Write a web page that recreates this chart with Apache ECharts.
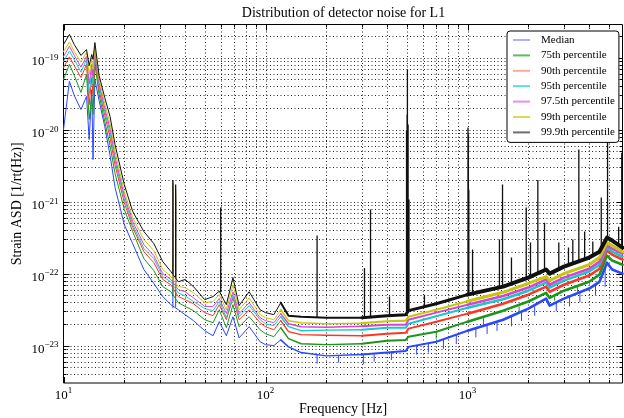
<!DOCTYPE html>
<html><head><meta charset="utf-8">
<script src="https://cdn.jsdelivr.net/npm/echarts@6/dist/echarts.min.js"></script>
<style>html,body{margin:0;padding:0;background:#fff}#c{width:624px;height:418px}</style>
</head><body><div id="c"></div>
<script>
// ---------------- data ----------------
const freqs = [10, 10.7, 11.3, 12.2, 13.0, 13.4, 13.8, 14.0, 14.3, 15,
  16, 17, 18, 20, 22, 25, 28, 31, 34, 37,
  40, 44, 50, 55, 59, 64, 69, 74, 83, 94,
  100, 110, 119, 130, 150, 200, 300, 400, 495, 510,
  700, 1000, 1500, 2000, 2450, 2550, 3000, 4000, 4500, 4900,
  5200, 5850];

const median = [1.0e-20, 4.7e-20, 3.0e-20, 1.91e-20, 2.9e-20, 7.3e-21, 3.6e-20, 3.85e-21, 5.0e-20, 2.55e-20,
  1.11e-20, 4.4e-21, 1.57e-21, 4.8e-22, 2.61e-22, 1.14e-22, 7.3e-23, 4.8e-23, 3.7e-23, 3.15e-23,
  2.69e-23, 2.22e-23, 1.61e-23, 1.37e-23, 2.15e-23, 1.37e-23, 2.52e-23, 1.28e-23, 1.83e-23, 1.13e-23,
  1.03e-23, 1.0e-23, 1.2e-23, 9.6e-24, 8.0e-24, 7.2e-24, 7.5e-24, 8.0e-24, 8.4e-24, 9.6e-24,
  1.13e-23, 1.61e-23, 2.29e-23, 3.26e-23, 4.5e-23, 3.6e-23, 4.5e-23, 6.2e-23, 7.7e-23, 1.42e-22,
  1.14e-22, 1.0e-22];
const p75 = [5.0e-20, 8.1e-20, 5.7e-20, 3.3e-20, 5.9e-20, 1.39e-20, 3.1e-20, 1.63e-20, 8.3e-20, 3.1e-20,
  1.30e-20, 6.0e-21, 2.46e-21, 7.8e-22, 3.84e-22, 1.62e-22, 1.1e-22, 6.6e-23, 5.6e-23, 3.95e-23,
  3.5e-23, 3.06e-23, 2.29e-23, 2.08e-23, 3.15e-23, 1.77e-23, 3.7e-23, 1.83e-23, 2.52e-23, 1.66e-23,
  1.46e-23, 1.33e-23, 1.77e-23, 1.25e-23, 1.06e-23, 1.03e-23, 1.06e-23, 1.17e-23, 1.2e-23, 1.33e-23,
  1.56e-23, 2.15e-23, 3.06e-23, 4.1e-23, 5.4e-23, 4.6e-23, 5.8e-23, 7.7e-23, 9.7e-23, 1.78e-22,
  1.52e-22, 1.33e-22];
const p90 = [7.3e-20, 1.03e-19, 7.8e-20, 5.3e-20, 8.1e-20, 2.24e-20, 5.3e-20, 3.1e-20, 1.04e-19, 3.6e-20,
  1.58e-20, 7.8e-21, 3.2e-21, 9.7e-22, 4.4e-22, 2.02e-22, 1.42e-22, 8.3e-23, 7.0e-23, 4.8e-23,
  4.35e-23, 3.82e-23, 2.87e-23, 2.6e-23, 3.7e-23, 2.29e-23, 4.6e-23, 2.29e-23, 3.15e-23, 2.08e-23,
  1.83e-23, 1.66e-23, 2.22e-23, 1.56e-23, 1.42e-23, 1.39e-23, 1.37e-23, 1.46e-23, 1.51e-23, 1.72e-23,
  2.15e-23, 2.78e-23, 3.82e-23, 5.1e-23, 6.6e-23, 5.6e-23, 7.0e-23, 9.4e-23, 1.17e-22, 2.09e-22,
  1.84e-22, 1.57e-22];
const p95 = [8.9e-20, 1.24e-19, 9.5e-20, 6.3e-20, 9.5e-20, 3.1e-20, 6.9e-20, 4.3e-20, 1.19e-19, 4.1e-20,
  1.79e-20, 9.1e-21, 3.7e-21, 1.1e-21, 4.8e-22, 2.23e-22, 1.62e-22, 9.1e-23, 7.7e-23, 5.4e-23,
  4.9e-23, 4.1e-23, 3.26e-23, 3.06e-23, 4.1e-23, 2.44e-23, 4.9e-23, 2.52e-23, 3.6e-23, 2.29e-23,
  2.01e-23, 1.89e-23, 2.52e-23, 1.83e-23, 1.61e-23, 1.64e-23, 1.66e-23, 1.77e-23, 1.77e-23, 2.01e-23,
  2.56e-23, 3.36e-23, 4.4e-23, 5.8e-23, 7.5e-23, 6.4e-23, 8.0e-23, 1.07e-22, 1.33e-22, 2.3e-22,
  2.02e-22, 1.72e-22];
const p975 = [1.04e-19, 1.45e-19, 1.08e-19, 7.4e-20, 1.05e-19, 4.3e-20, 8.1e-20, 5.3e-20, 1.30e-19, 4.5e-20,
  2.0e-20, 1.04e-20, 4.2e-21, 1.22e-21, 5.3e-22, 2.53e-22, 1.78e-22, 1.0e-22, 8.3e-23, 6.0e-23,
  5.6e-23, 4.6e-23, 3.5e-23, 3.5e-23, 4.5e-23, 2.78e-23, 5.6e-23, 2.78e-23, 3.95e-23, 2.44e-23,
  2.22e-23, 2.08e-23, 2.78e-23, 2.01e-23, 1.83e-23, 1.80e-23, 1.86e-23, 1.95e-23, 1.95e-23, 2.29e-23,
  2.87e-23, 3.7e-23, 4.9e-23, 6.4e-23, 8.3e-23, 7.0e-23, 8.8e-23, 1.17e-22, 1.47e-22, 2.45e-22,
  2.23e-22, 1.9e-22];
const p99 = [1.22e-19, 1.66e-19, 1.22e-19, 8.7e-20, 1.19e-19, 5.9e-20, 9.5e-20, 6.9e-20, 1.44e-19, 5.0e-20,
  2.3e-20, 1.22e-20, 5.0e-21, 1.38e-21, 6.0e-22, 2.97e-22, 2.09e-22, 1.14e-22, 9.1e-23, 6.6e-23,
  6.4e-23, 5.4e-23, 3.95e-23, 4.1e-23, 5.1e-23, 3.15e-23, 7.0e-23, 3.15e-23, 4.6e-23, 2.69e-23,
  2.44e-23, 2.29e-23, 3.15e-23, 2.22e-23, 2.08e-23, 2.01e-23, 2.05e-23, 2.18e-23, 2.22e-23, 2.52e-23,
  3.15e-23, 4.14e-23, 5.5e-23, 7.3e-23, 9.1e-23, 8.0e-23, 1.0e-22, 1.33e-22, 1.67e-22, 2.7e-22,
  2.45e-22, 2.02e-22];
const p999 = [1.53e-19, 2.11e-19, 1.53e-19, 1.08e-19, 1.30e-19, 7.8e-20, 1.11e-19, 9.5e-20, 1.63e-19, 5.7e-20,
  2.8e-20, 1.53e-20, 6.2e-21, 1.73e-21, 7.3e-22, 3.84e-22, 2.61e-22, 1.47e-22, 1.07e-22, 7.7e-23,
  8.3e-23, 6.6e-23, 4.35e-23, 4.8e-23, 5.7e-23, 3.7e-23, 8.8e-23, 3.6e-23, 5.6e-23, 3.15e-23,
  2.87e-23, 2.69e-23, 3.95e-23, 2.6e-23, 2.52e-23, 2.44e-23, 2.44e-23, 2.6e-23, 2.69e-23, 3.06e-23,
  3.82e-23, 5.1e-23, 6.6e-23, 8.8e-23, 1.14e-22, 1.0e-22, 1.25e-22, 1.67e-22, 2.02e-22, 3.17e-22,
  2.88e-22, 2.3e-22];

// narrow spectral lines: frequency, floor value, extreme value
const lines35Freq = [34.8, 35.9];
const medianLinesBase = [3.3e-23, 3.4e-23], medianLinesTop = [1.2e-21, 1.0e-21];
const p75LinesBase = [5.2e-23, 4.5e-23], p75LinesTop = [1.4e-21, 1.2e-21];
const p90LinesBase = [6.6e-23, 5.8e-23], p90LinesTop = [1.6e-21, 1.3e-21];
const p95LinesBase = [7.4e-23, 6.4e-23], p95LinesTop = [1.7e-21, 1.4e-21];
const p975LinesBase = [8.0e-23, 7.0e-23], p975LinesTop = [1.8e-21, 1.5e-21];
const p99LinesBase = [8.9e-23, 7.8e-23], p99LinesTop = [1.9e-21, 1.6e-21];

const p999LinesFreq = [34.8, 35.9, 60, 180, 309, 331, 411, 499, 502, 504, 508, 513, 612,
  1005, 1010, 1015, 1059, 1439, 1490, 1650, 1953, 2050, 2229, 2405, 2830, 3160, 3320, 3557, 3800, 4170, 4592, 4933, 5600, 5800];
const p999LinesTop = [2.0e-21, 1.73e-21, 8.3e-22, 3.4e-22, 1.2e-22, 7.8e-22, 4.8e-23, 9.7e-21, 1.63e-20, 6.9e-20, 1.18e-20, 1.07e-21, 5.1e-23,
  1.07e-20, 8.6e-21, 1.47e-21, 2.16e-22, 2.97e-22, 1.73e-21, 1.67e-22, 8.3e-22, 2.7e-22, 2.0e-21, 5.1e-22, 2.7e-22, 2.3e-22, 2.97e-22, 5.3e-21, 3.84e-22, 2.79e-22, 1.14e-21, 2.6e-20, 4.5e-22, 4.8e-21];
const p999LinesBase = [1.0e-22, 9.0e-23, 5.5e-23, 2.5e-23, 2.44e-23, 2.44e-23, 2.6e-23, 2.7e-23, 2.8e-23, 2.9e-23, 3.0e-23, 3.0e-23, 3.5e-23,
  5.1e-23, 5.1e-23, 5.1e-23, 5.3e-23, 6.4e-23, 6.6e-23, 7.0e-23, 8.6e-23, 9.0e-23, 1.0e-22, 1.1e-22, 1.2e-22, 1.3e-22, 1.35e-22, 1.45e-22, 1.6e-22, 1.8e-22, 2.2e-22, 3.1e-22, 2.5e-22, 2.3e-22];

// downward dropouts in the median and 75th percentile
const medianDipFreq = [180, 230, 305, 345, 420, 560, 640, 760, 880, 1100, 1250, 1400, 1650, 1850, 2150, 2750, 3200, 3600, 4300, 4800];
const medianDipBase = [7.5e-24, 7.2e-24, 7.5e-24, 7.6e-24, 8.1e-24, 1.0e-23, 1.08e-23, 1.2e-23, 1.4e-23, 1.75e-23, 1.95e-23, 2.15e-23, 2.5e-23, 2.9e-23, 3.5e-23, 4.0e-23, 4.8e-23, 5.4e-23, 7.0e-23, 1.2e-22];
const medianDipLow = [5.6e-24, 5.8e-24, 5.5e-24, 6.0e-24, 6.3e-24, 7.5e-24, 8.0e-24, 9.0e-24, 1.05e-23, 1.3e-23, 1.45e-23, 1.6e-23, 1.85e-23, 2.2e-23, 2.6e-23, 3.0e-23, 3.5e-23, 4.0e-23, 5.0e-23, 6.5e-23];
const p75DipFreq = [700, 1200, 1800, 2700, 3500];
const p75DipBase = [1.56e-23, 2.4e-23, 3.5e-23, 5.2e-23, 6.7e-23];
const p75DipLow = [1.25e-23, 1.9e-23, 2.8e-23, 4.2e-23, 5.3e-23];

const seriesNames = ['Median', '75th percentile', '90th percentile', '95th percentile',
  '97.5th percentile', '99th percentile', '99.9th percentile'];

// tick positions
const xMajorTicks = [10, 100, 1000];
const xMinorTicks = [20, 30, 40, 50, 60, 70, 80, 90, 200, 300, 400, 500, 600, 700, 800, 900, 2000, 3000, 4000, 5000];
const yMajorTicks = [1e-23, 1e-22, 1e-21, 1e-20, 1e-19];
const yMinorTicks = [4e-24, 5e-24, 6e-24, 7e-24, 8e-24, 9e-24,
  2e-23, 3e-23, 4e-23, 5e-23, 6e-23, 7e-23, 8e-23, 9e-23,
  2e-22, 3e-22, 4e-22, 5e-22, 6e-22, 7e-22, 8e-22, 9e-22,
  2e-21, 3e-21, 4e-21, 5e-21, 6e-21, 7e-21, 8e-21, 9e-21,
  2e-20, 3e-20, 4e-20, 5e-20, 6e-20, 7e-20, 8e-20, 9e-20,
  2e-19];
const xMinVal = 10, xMaxVal = 5850, yMinVal = 3.02e-24, yMaxVal = 2.9e-19;

// ---------------- styles ----------------
const lineColors = ['#2a46ff', '#1a961a', '#ff3424', '#18c8c8', '#d644d6', '#c6c60c', '#111111'];
const legendColors = ['#a9b2ff', '#63b863', '#ffa89e', '#5fd9d9', '#ee8cee', '#d9d955', '#6e6e6e'];
// the dense spectrum reads as a band that thickens with frequency: widths per frequency band
const bandEdges = [0, 32, 36, 41, 51]; // indices into freqs: <119 Hz, 119-300, 300-1000, >1000
const bandWidths = [[1, 1.4, 2, 2.6], [1, 1.4, 2, 2.6], [1, 1.4, 2, 2.6], [1, 1.4, 2, 2.6],
  [1, 1.4, 2, 2.6], [1, 1.5, 2.2, 3], [1, 2, 3, 4]];
const FONT = 'Liberation Serif';

const baseValues = [median, p75, p90, p95, p975, p99, p999];
const lineSets = [
  [[lines35Freq, medianLinesBase, medianLinesTop], [medianDipFreq, medianDipBase, medianDipLow]],
  [[lines35Freq, p75LinesBase, p75LinesTop], [p75DipFreq, p75DipBase, p75DipLow]],
  [[lines35Freq, p90LinesBase, p90LinesTop]],
  [[lines35Freq, p95LinesBase, p95LinesTop]],
  [[lines35Freq, p975LinesBase, p975LinesTop]],
  [[lines35Freq, p99LinesBase, p99LinesTop]],
  [[p999LinesFreq, p999LinesBase, p999LinesTop]]
];
const L = v => Math.log10(v);

const series = [];
const dotted = { stroke: '#000', lineWidth: 1, lineDash: [1, 2.5], opacity: 0.85 };
const tickStyle = { stroke: '#000', lineWidth: 1 };
function gridRender(isX) {
  return function (params, api) {
    const cs = params.coordSys;
    const len = api.value(2) === 1 ? 6 : 3;
    const p = api.coord([api.value(0), api.value(1)]);
    const ch = [];
    if (isX) {
      const x = Math.round(p[0]) + 0.5;
      if (x > cs.x + 1.5 && x < cs.x + cs.width - 1.5)
        ch.push({ type: 'line', shape: { x1: x, y1: cs.y, x2: x, y2: cs.y + cs.height }, style: dotted });
      ch.push({ type: 'line', shape: { x1: x, y1: cs.y + cs.height, x2: x, y2: cs.y + cs.height - len }, style: tickStyle });
      ch.push({ type: 'line', shape: { x1: x, y1: cs.y, x2: x, y2: cs.y + len }, style: tickStyle });
    } else {
      const y = Math.round(p[1]) + 0.5;
      if (y > cs.y + 1.5 && y < cs.y + cs.height - 1.5)
        ch.push({ type: 'line', shape: { x1: cs.x, y1: y, x2: cs.x + cs.width, y2: y }, style: dotted });
      ch.push({ type: 'line', shape: { x1: cs.x, y1: y, x2: cs.x + len, y2: y }, style: tickStyle });
      ch.push({ type: 'line', shape: { x1: cs.x + cs.width, y1: y, x2: cs.x + cs.width - len, y2: y }, style: tickStyle });
    }
    return { type: 'group', children: ch };
  };
}
series.push({ type: 'custom', silent: true, z: 1, renderItem: gridRender(true),
  data: xMajorTicks.map(v => [v, -21, 1]).concat(xMinorTicks.map(v => [v, -21, 0])) });
series.push({ type: 'custom', silent: true, z: 1, renderItem: gridRender(false),
  data: yMajorTicks.map(v => [100, L(v), 1]).concat(yMinorTicks.map(v => [100, L(v), 0])) });

seriesNames.forEach((name, k) => {
  const vals = baseValues[k];
  for (let b = 0; b < bandEdges.length - 1; b++) {
    const data = [];
    for (let i = bandEdges[b]; i <= bandEdges[b + 1]; i++) data.push([freqs[i], L(vals[i])]);
    series.push({ type: 'line', name, data, showSymbol: false, symbol: 'none', z: 2,
      lineStyle: { width: bandWidths[k][b], color: lineColors[k], join: 'round', cap: 'round' },
      itemStyle: { color: lineColors[k] }, emphasis: { disabled: true } });
  }
  const spikeData = [];
  lineSets[k].forEach(set => {
    set[0].forEach((f, i) => { spikeData.push([f, L(set[1][i])], [f, L(set[2][i])], [f, null]); });
  });
  series.push({ type: 'line', name, data: spikeData, showSymbol: false, symbol: 'none', z: 2, connectNulls: false,
    lineStyle: { width: k === 6 ? 1.3 : 1, color: lineColors[k] },
    itemStyle: { color: lineColors[k] }, emphasis: { disabled: true } });
});

function powLabel(e) {
  const s = (e < 0 ? '\u2212' : '') + Math.abs(e);
  return '{b|10}{e|' + s + '}';
}
const richLabel = {
  b: { fontFamily: FONT, fontSize: 13, lineHeight: 13, color: '#000', padding: [4.5, 0, 4.5, 0] },
  e: { fontFamily: FONT, fontSize: 9, lineHeight: 9, color: '#000', padding: [2, 0, 11, 0] }
};

const chart = echarts.init(document.getElementById('c'), null, { renderer: 'canvas' });
chart.setOption({
  animation: false,
  backgroundColor: '#fff',
  title: {
    text: 'Distribution of detector noise for L1',
    left: 343.5, top: 6, textAlign: 'center', padding: 0,
    textStyle: { fontFamily: FONT, fontSize: 14, fontWeight: 'normal', color: '#000' }
  },
  grid: { left: 63.5, top: 24.5, width: 559, height: 358.5, show: true, borderColor: '#000', borderWidth: 1,
    backgroundColor: 'transparent', containLabel: false, outerBoundsMode: 'none' },
  legend: {
    data: seriesNames.map((n, i) => ({ name: n, itemStyle: { color: legendColors[i] } })),
    orient: 'vertical', left: 507, top: 31, icon: 'rect', itemWidth: 17, itemHeight: 2, itemGap: 3.4,
    padding: [3, 4, 4, 6], backgroundColor: '#fff', borderColor: '#000', borderWidth: 1, borderRadius: 3,
    selectedMode: false,
    textStyle: { fontFamily: FONT, fontSize: 11, color: '#000', lineHeight: 12, padding: [0, 0, 0, 6] }
  },
  xAxis: {
    type: 'log', logBase: 10, min: xMinVal, max: xMaxVal,
    name: 'Frequency [Hz]', nameLocation: 'middle', nameGap: 19, nameMoveOverlap: false,
    nameTextStyle: { fontFamily: FONT, fontSize: 14, color: '#000' },
    axisLine: { show: false }, axisTick: { show: false }, splitLine: { show: false }, minorTick: { show: false },
    axisLabel: {
      margin: 6, showMinLabel: true, showMaxLabel: false,
      formatter: v => powLabel(Math.round(Math.log10(v))), rich: richLabel
    }
  },
  yAxis: {
    type: 'value', min: L(yMinVal), max: L(yMaxVal),
    name: 'Strain ASD [1/rt(Hz)]', nameLocation: 'middle', nameGap: 39, nameMoveOverlap: false,
    nameTextStyle: { fontFamily: FONT, fontSize: 14, color: '#000' },
    axisLine: { show: false }, axisTick: { show: false }, splitLine: { show: false },
    axisLabel: {
      margin: 5, showMinLabel: false, showMaxLabel: false, padding: [8, 0, 0, 0],
      formatter: v => powLabel(Math.round(v)), rich: richLabel
    }
  },
  series
});
</script></body></html>
